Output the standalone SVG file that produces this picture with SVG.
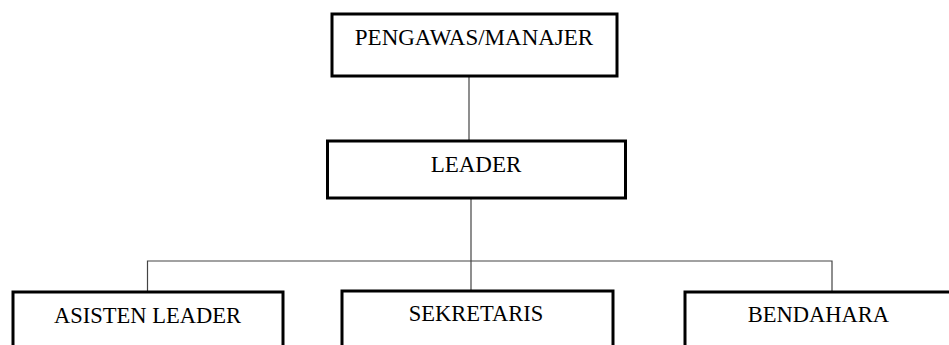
<svg xmlns="http://www.w3.org/2000/svg" width="949" height="345" viewBox="0 0 949 345">
<style>
.box{fill:#fff;stroke:#000;stroke-width:3}
.lbl{font-family:"Liberation Serif","Times New Roman",serif;font-size:23px;fill:#000;text-anchor:middle}
.sm{font-size:22.5px}
.con{stroke:#444;stroke-width:1.2;fill:none}
</style>
<rect width="949" height="345" fill="#fff"/>
<g id="connectors">
<line class="con" x1="469" y1="76" x2="469" y2="141"/>
<line class="con" x1="471" y1="198" x2="471" y2="291"/>
<polyline class="con" points="147.5,292 147.5,261 832,261 832,292"/>
</g>
<g id="pengawas">
<rect class="box" x="332" y="14" width="285" height="62"/>
<text class="lbl" x="474" y="45">PENGAWAS/MANAJER</text>
</g>
<g id="leader">
<rect class="box" x="327.5" y="141" width="298" height="57"/>
<text class="lbl" x="476" y="172">LEADER</text>
</g>
<g id="asisten">
<rect class="box" x="13" y="292" width="270" height="70"/>
<text class="lbl sm" x="147.5" y="323">ASISTEN LEADER</text>
</g>
<g id="sekretaris">
<rect class="box" x="342" y="291" width="271" height="70"/>
<text class="lbl sm" x="476" y="321">SEKRETARIS</text>
</g>
<g id="bendahara">
<rect class="box" x="685" y="292" width="290" height="70"/>
<text class="lbl sm" x="818.5" y="322">BENDAHARA</text>
</g>
</svg>
